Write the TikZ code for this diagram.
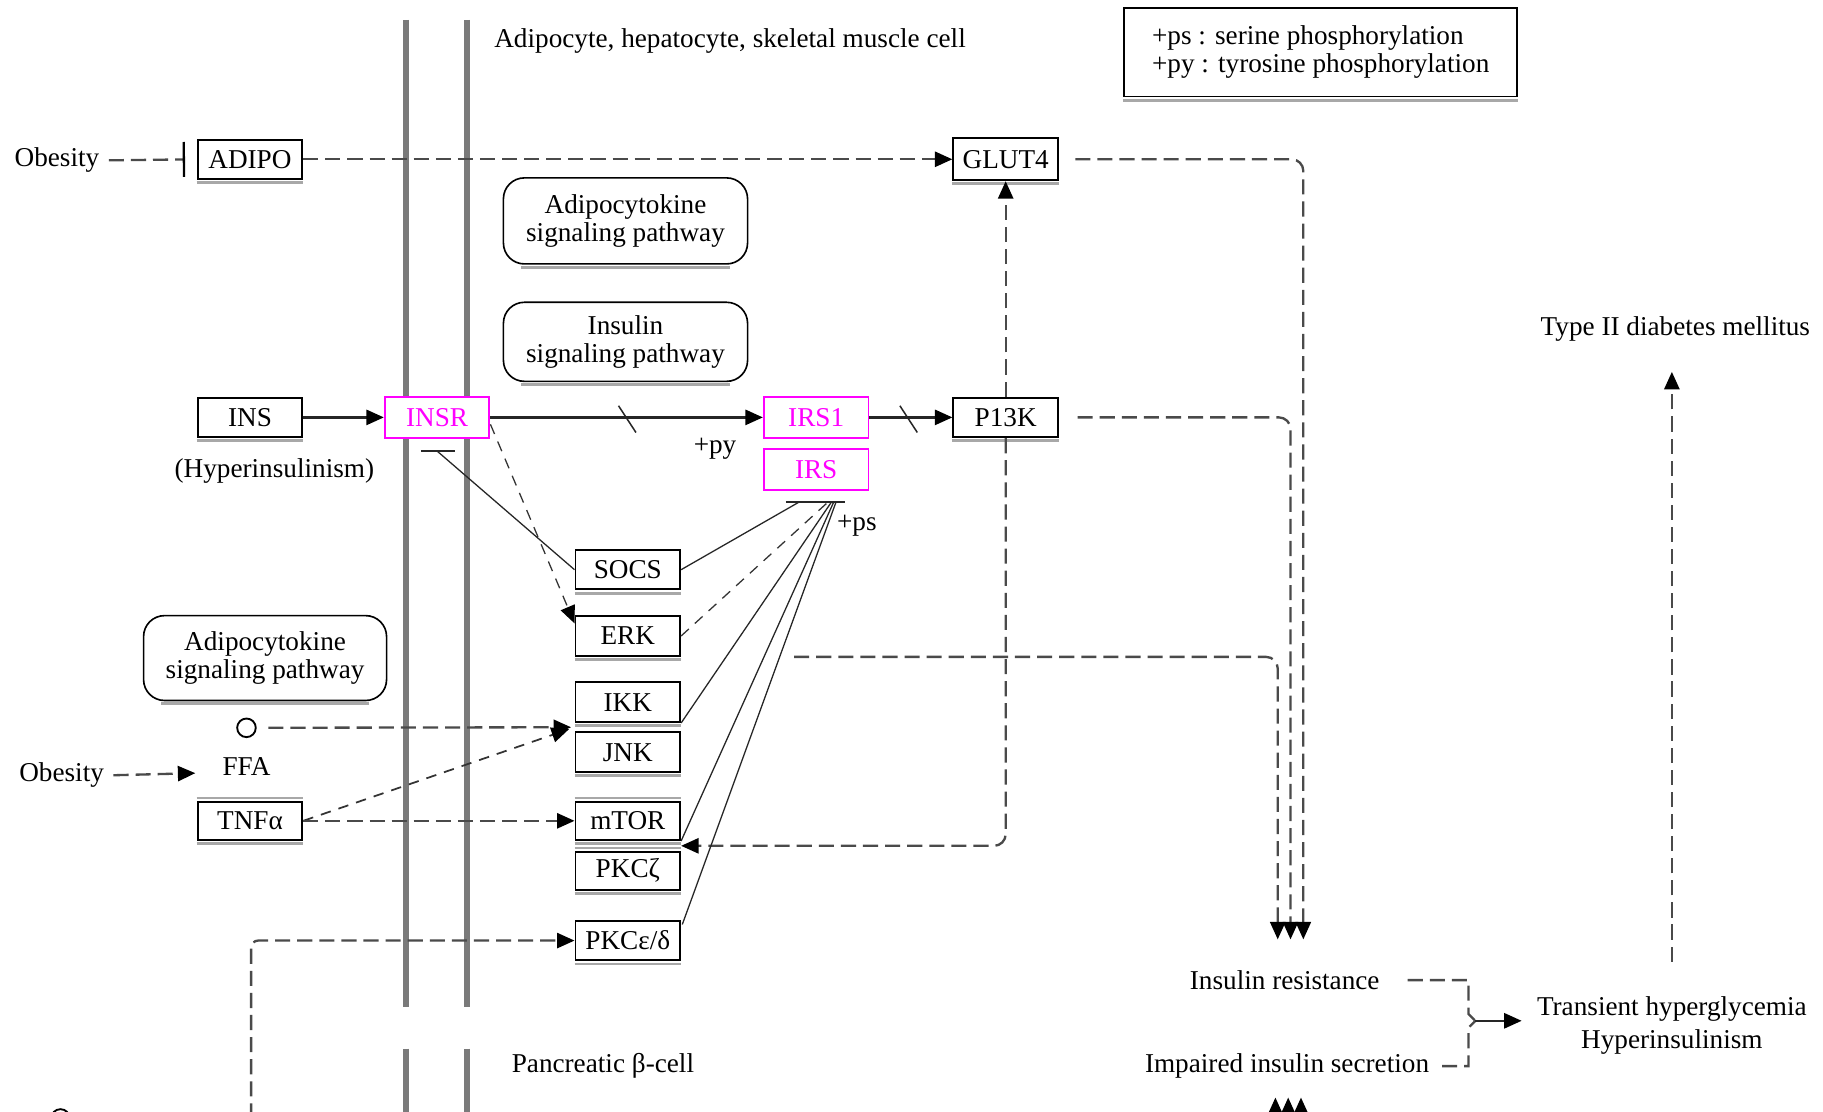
\documentclass[tikz,border=0pt]{standalone}
\usepackage{fontspec}
\setmainfont{Liberation Serif}
\usetikzlibrary{arrows.meta,calc}
\definecolor{linegray}{HTML}{4A4A4A}
\definecolor{membranegray}{HTML}{7A7A7A}
\definecolor{shadegray}{HTML}{A8A8A8}
\definecolor{keggmag}{RGB}{255,0,255}
\begin{document}
\begin{tikzpicture}[x=1pt,y=-1pt,
  >={Triangle[length=15pt,width=13pt,color=black]},
  every node/.style={font=\fontsize{23.4}{24}\selectfont, inner sep=0pt},
  gene/.style={draw=black, line width=1.7pt, fill=white, minimum width=90pt, minimum height=34pt},
  hgene/.style={gene, draw=keggmag, text=keggmag, minimum height=35pt},
  pathway/.style={draw=black, line width=1.4pt, fill=white, rounded corners=18pt, align=center, minimum width=210pt},
  membrane/.style={line width=5pt, draw=membranegray},
  dl/.style={draw=linegray, line width=2pt, dash pattern=on 13pt off 6pt},
  tdl/.style={draw=black!80, line width=1.1pt, dash pattern=on 9pt off 7pt},
  sl/.style={draw=black!85, line width=2pt},
  tl/.style={draw=black!85, line width=1.1pt},
  shadowline/.style={draw=shadegray, line width=2.5pt},
]
\useasboundingbox (0,0) rectangle (1568,956);
\clip (0,0) rectangle (1568,956);
\fill[white] (0,0) rectangle (1568,956);

% cell membranes
\draw[membrane] (349,17) -- (349,866);
\draw[membrane] (402,17) -- (402,866);
\draw[membrane] (349,902) -- (349,960);
\draw[membrane] (402,902) -- (402,960);

% titles and legend
\node[anchor=west] (celltitle) at (425,35) {Adipocyte, hepatocyte, skeletal muscle cell};
\node[anchor=west] (betatitle) at (440,917) {Pancreatic β-cell};
\node[draw=black, line width=1.5pt, fill=white, minimum width=338pt, minimum height=76pt, align=left]
  (legend) at (1136,45) {+ps : serine phosphorylation\\+py : tyrosine phosphorylation};

% gene products
\node[gene] (adipo) at (215,137) {ADIPO};
\node[gene, minimum height=36pt] (glut4) at (865,137) {GLUT4};
\node[gene] (ins) at (215,359) {INS};
\node[hgene] (insr) at (376,359) {INSR};
\node[hgene] (irs1) at (702,359) {IRS1};
\node[hgene] (irs) at (702,404) {IRS};
\node[gene] (pi3k) at (865,359) {P13K};
\node[gene] (socs) at (540,490) {SOCS};
\node[gene] (erk) at (540,547) {ERK};
\node[gene] (ikk) at (540,604) {IKK};
\node[gene] (jnk) at (540,647) {JNK};
\node[gene, minimum height=33pt] (mtor) at (540,706) {mTOR};
\node[gene, minimum height=33pt] (pkcz) at (540,749) {PKCζ};
\node[gene] (pkced) at (540,809) {PKCε/δ};
\node[gene, minimum height=33pt] (tnfa) at (215,706) {TNFα};

% linked pathways
\node[pathway, minimum height=74pt] (adipath) at (538,190) {Adipocytokine\\signaling pathway};
\node[pathway, minimum height=68pt] (inspath) at (538,294) {Insulin\\signaling pathway};
\node[pathway, minimum height=73pt, minimum width=209pt] (adipathb) at (228,566) {Adipocytokine\\signaling pathway};

% box shadows
\foreach \n in {adipo,glut4,ins,pi3k,socs,erk,ikk,jnk,mtor,pkcz,pkced,tnfa,legend}
  \draw[shadowline] ([yshift=-2.3pt]\n.south west) -- ([yshift=-2.3pt]\n.south east);
\foreach \n in {mtor,pkcz,tnfa}
  \draw[shadowline] ([yshift=2.3pt]\n.north west) -- ([yshift=2.3pt]\n.north east);
\foreach \n in {adipath,inspath,adipathb}
  \draw[shadowline] ([xshift=16pt,yshift=-2pt]\n.south west) -- ([xshift=-16pt,yshift=-2pt]\n.south east);

% compounds and other labels
\node[draw, circle, line width=1.6pt, minimum size=16pt] (ffa) at (212,626) {};
\node (ffalabel) at (212,659) {FFA};
\node[draw, circle, line width=1.6pt, minimum size=16pt] (cpd) at (52,962) {};
\node (obesa) at (49,138) {Obesity};
\node (obesb) at (53,667) {Obesity};
\node (hyper) at (236,405) {(Hyperinsulinism)};
\node (py) at (615,386) {+py};
\node (ps) at (737,452) {+ps};
\node (ir) at (1105,843) {Insulin resistance};
\node (iis) at (1107,917) {Impaired insulin secretion};
\node[align=center, font=\fontsize{23.4}{28}\selectfont] (trans) at (1438,882) {Transient hyperglycemia\\Hyperinsulinism};
\node (t2dm) at (1441,283) {Type II diabetes mellitus};

% helper points
\coordinate (insrbar) at (376,388);
\coordinate (irsbar) at (702,432);
\coordinate (mtgap) at ($(mtor.south east)!0.5!(pkcz.north east)$);
\coordinate (ikkjnk) at ($(ikk.south west)!0.5!(jnk.north west)$);
\coordinate (ffain) at (168,665);
\coordinate (erkout) at (683,565);
\coordinate (ira) at (1099,808);
\coordinate (irb) at (1110,808);
\coordinate (irc) at (1121,808);
\coordinate (bsrc) at (216,962);
\coordinate (join) at (1269,878);
\coordinate (upa) at (1097,975);
\coordinate (upb) at (1108,975);
\coordinate (upc) at (1119,975);

% obesity and adiponectin
\draw[dl, -{Bar[width=30pt,color=black]}, shorten <=8pt, shorten >=10pt] (obesa.east) -- (adipo.west);
\draw[dl, ->] (adipo) -- (glut4);
\draw[dl, ->, rounded corners=10pt, shorten <=14pt] (glut4.east) -| (irc);

% insulin receptor signalling
\draw[sl, ->] (ins) -- (insr);
\draw[sl, ->] (insr) -- (irs1);
\draw[tl, line width=1.3pt] (532,349) -- (547,372);
\draw[sl, ->] (irs1) -- (pi3k);
\draw[tl, line width=1.3pt] (774,349) -- (789,372);
\draw[dl, ->] (pi3k.north) -- (glut4.south);
\draw[dl, ->, rounded corners=10pt] (pi3k.south) |- (mtgap);
\draw[dl, ->, rounded corners=10pt, shorten <=16pt] (pi3k.east) -| (irb);
\draw[dl, ->, rounded corners=10pt] (erkout) -| (ira);

% SOCS inhibits INSR
\draw[tl] (socs.west) -- (insrbar);
\draw[sl, line width=1.6pt] ([xshift=-14pt]insrbar) -- ([xshift=15pt]insrbar);
\draw[tdl, ->] ([yshift=-6pt]insr.east) -- ([yshift=-7pt]erk.north west);

% serine phosphorylation of IRS
\draw[sl, line width=1.6pt] ([xshift=-26pt]irsbar) -- ([xshift=25pt]irsbar);
\draw[tl] (socs.east) -- ([xshift=-15pt]irsbar);
\draw[tdl] (erk.east) -- ([xshift=10pt]irsbar);
\draw[tl] (ikk.south east) -- ([xshift=13pt]irsbar);
\draw[tl] (mtor.south east) -- ([xshift=15pt]irsbar);
\draw[tl] ($(pkced.north east)+(1,4)$) -- ([xshift=17pt]irsbar);

% FFA, TNF-alpha and DAG inputs
\draw[dl, ->, shorten <=8pt] (obesb.east) -- (ffain);
\draw[dl, ->, shorten <=10pt, shorten >=3pt] (ffa) -- (ikkjnk);
\draw[tdl, line width=1.5pt, ->, shorten >=5pt] (tnfa.east) -- (ikkjnk);
\draw[dl, ->] (tnfa) -- (mtor);
\draw[dl, ->, rounded corners=6pt] (bsrc) |- (pkced.west);

% outcomes
\draw[dl] ([xshift=24pt]ir.east) -| ([xshift=-6pt,yshift=6pt]join) -- (join);
\draw[dl] ([xshift=11pt]iis.east) -| ([xshift=-6pt,yshift=-6pt]join) -- (join);
\draw[sl, ->, shorten >=13pt] (join) -- (join -| trans.west);
\draw[dl, ->, shorten <=30pt, shorten >=26pt] (trans.north) -- (trans.north |- t2dm.south);
\draw[dl, ->] (upa) -- (1097,944);
\draw[dl, ->] (upb) -- (1108,944);
\draw[dl, ->] (upc) -- (1119,944);
\end{tikzpicture}
\end{document}
